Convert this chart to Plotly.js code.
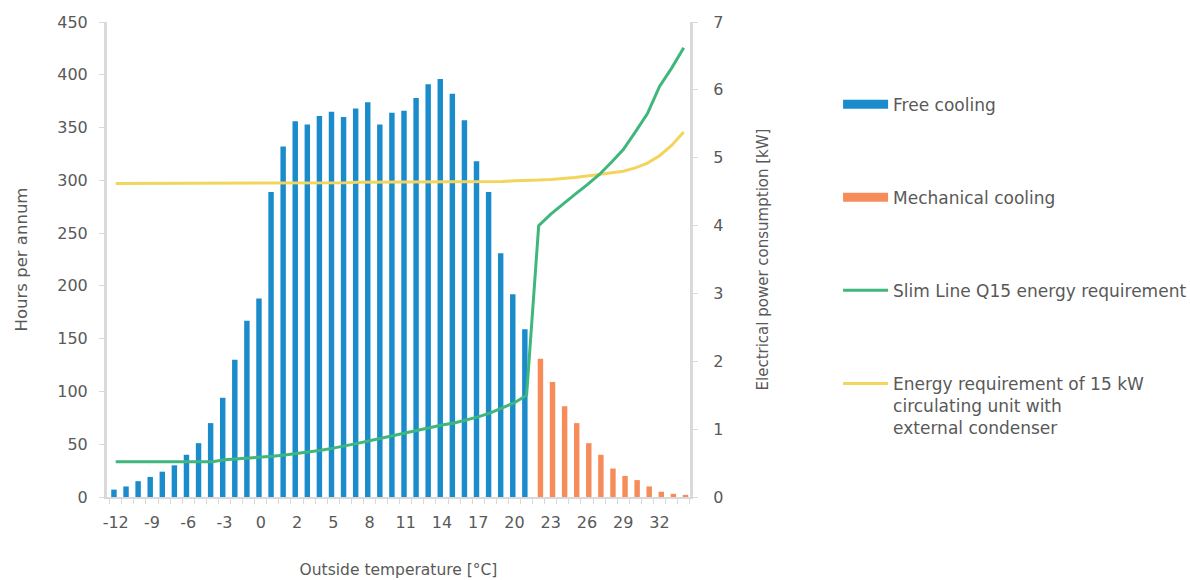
<!DOCTYPE html>
<html>
<head>
<meta charset="utf-8">
<script src="https://cdn.plot.ly/plotly-3.0.1.min.js"></script>
<style>html,body{margin:0;padding:0;background:#fff;}#chart{width:1190px;height:580px;}</style>
</head>
<body>
<div id="chart"></div>
<script>
// Category tick labels (every third category is labelled)
const tickLabels = ['-12','-9','-6','-3','0','2','5','8','11','14','17','20','23','26','29','32'];
const tickEvery = 3;

// Hours per annum - free cooling (first 35 categories)
const freeCooling = [7,10,15,19,24,30,40,51,70,94,130,167,188,289,332,356,353,361,365,360,368,374,353,364,366,378,391,396,382,357,318,289,231,192,159];
// Hours per annum - mechanical cooling (following 13 categories)
const mechanicalCooling = [131,109,86,70,51,40,27,20,16,10,5,3,2];

// Electrical power consumption [kW]
const slimLine = [0.52,0.52,0.52,0.52,0.52,0.52,0.52,0.52,0.52,0.55,0.56,0.57,0.59,0.60,0.62,0.64,0.66,0.69,0.72,0.75,0.79,0.83,0.87,0.91,0.95,0.99,1.02,1.06,1.09,1.13,1.18,1.24,1.31,1.39,1.50,4.00,4.17,4.32,4.46,4.60,4.75,4.93,5.12,5.38,5.65,6.05,6.32,6.62];
const circulatingUnit = [4.62,4.62,4.62,4.62,4.62,4.62,4.62,4.62,4.62,4.62,4.63,4.63,4.63,4.63,4.63,4.63,4.63,4.63,4.63,4.63,4.64,4.64,4.64,4.64,4.64,4.64,4.64,4.64,4.64,4.64,4.65,4.65,4.65,4.66,4.66,4.67,4.68,4.69,4.71,4.73,4.75,4.77,4.80,4.85,4.92,5.03,5.18,5.38];

const names = ['Free cooling','Mechanical cooling','Slim Line Q15 energy requirement','Energy requirement of 15 kW<br>circulating unit with<br>external condenser'];
const colors = {blue:'#1a8bcb', orange:'#f58c5a', green:'#3fb77c', yellow:'#f3d45c', text:'#595959', axis:'#d9d9d9'};
const FONT = 'DejaVu Sans, sans-serif';

const tickVals = tickLabels.map((_, i) => i * tickEvery);

const traces = [
  {type:'bar', y:freeCooling, x0:0, dx:1, width:0.45, offset:-0.37, marker:{color:colors.blue}, showlegend:false, legendgroup:'a', hoverinfo:'y'},
  {type:'bar', y:mechanicalCooling, x0:freeCooling.length, dx:1, width:0.45, offset:-0.08, marker:{color:colors.orange}, showlegend:false, legendgroup:'b', hoverinfo:'y'},
  {type:'scatter', mode:'lines', y:circulatingUnit, x0:0, dx:1, yaxis:'y2', line:{color:colors.yellow, width:3}, name:names[3], legendgroup:'d', legendrank:4},
  {type:'scatter', mode:'lines', y:slimLine, x0:0, dx:1, yaxis:'y2', line:{color:colors.green, width:3}, name:names[2], legendgroup:'c', legendrank:3},
  {type:'scatter', mode:'lines', x:[null], y:[null], line:{color:colors.blue, width:9}, name:names[0], legendgroup:'a', legendrank:1},
  {type:'scatter', mode:'lines', x:[null], y:[null], line:{color:colors.orange, width:9}, name:names[1], legendgroup:'b', legendrank:2}
];

const layout = {
  width:1190, height:580,
  margin:{l:107, r:500, t:22, b:83, autoexpand:false},
  paper_bgcolor:'#fff', plot_bgcolor:'#fff',
  barmode:'overlay',
  font:{family:FONT, color:colors.text},
  xaxis:{
    range:[-0.72, 47.52], tickmode:'array', tickvals:tickVals, ticktext:tickLabels,
    ticks:'', showgrid:false, zeroline:false, showline:true, linecolor:colors.axis, linewidth:2,
    tickfont:{family:FONT, size:16, color:colors.text}, ticklabelstandoff:10,
    minor:{tickmode:'linear', tick0:0.5, dtick:1, ticks:'outside', ticklen:5, tickcolor:colors.axis, tickwidth:1, showgrid:false},
    title:{text:'Outside temperature [°C]', font:{family:FONT, size:15.5, color:colors.text}, standoff:33}
  },
  yaxis:{
    range:[0,450], dtick:50, ticks:'outside', ticklen:5, tickcolor:colors.axis, showgrid:false, zeroline:false,
    showline:true, linecolor:colors.axis, linewidth:3,
    tickfont:{family:FONT, size:16, color:colors.text}, ticklabelstandoff:8,
    title:{text:'Hours per annum', font:{family:FONT, size:16.5, color:colors.text}, standoff:26}
  },
  yaxis2:{
    overlaying:'y', side:'right', range:[0,7], dtick:1, ticks:'outside', ticklen:5, tickcolor:colors.axis,
    showgrid:false, zeroline:false, showline:true, linecolor:colors.axis, linewidth:3,
    tickfont:{family:FONT, size:16, color:colors.text}, ticklabelstandoff:12,
    title:{text:'Electrical power consumption [kW]', font:{family:FONT, size:15, color:colors.text}, standoff:36}
  },
  legend:{
    x:1.254, xanchor:'left', y:0.864, yanchor:'top', traceorder:'grouped', valign:'top',
    font:{family:FONT, size:17, color:colors.text}, tracegroupgap:68, itemwidth:45, bgcolor:'rgba(0,0,0,0)'
  },
  showlegend:true
};

Plotly.newPlot('chart', traces, layout, {displayModeBar:false, staticPlot:true});
</script>
</body>
</html>
